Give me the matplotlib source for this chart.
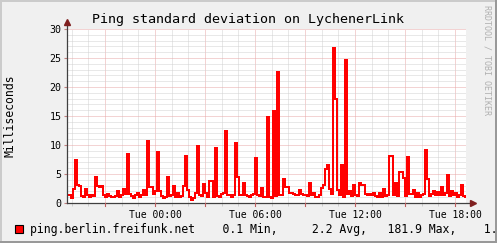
import numpy as np
import matplotlib
matplotlib.use('Agg')
import matplotlib.pyplot as plt
from matplotlib.patches import Rectangle

plt.rcParams['font.family'] = 'DejaVu Sans Mono'

# hours relative to Tue 00:00, one sample every 7.2 min
t_start = -5.28
t_step = 0.12
t_end = 18.66

# ping standard deviation (ms)
std_ms = [
    1.3, 1.4, 0.9, 2.4, 7.4, 3.1, 3.0, 1.2, 1.1, 2.4, 1.3, 1.0, 1.4, 1.2, 4.5, 2.9, 2.8, 2.9, 1.3, 1.1,
    1.6, 1.2, 1.0, 1.1, 1.2, 2.1, 1.1, 1.3, 2.4, 1.5, 8.4, 1.6, 1.2, 0.9, 1.4, 1.7, 1.1, 1.3, 2.2, 1.4,
    10.7, 2.7, 2.7, 1.6, 2.0, 8.8, 2.0, 1.2, 0.8, 1.1, 4.5, 1.2, 1.3, 2.9, 1.1, 1.7, 1.0, 1.2, 2.9, 8.1,
    2.2, 1.0, 0.5, 0.8, 1.7, 9.9, 1.4, 1.2, 3.3, 1.7, 1.0, 3.8, 3.8, 1.1, 9.5, 1.2, 1.0, 1.6, 1.7, 12.4,
    1.4, 1.3, 1.1, 1.4, 10.3, 4.4, 1.3, 1.4, 3.5, 1.3, 1.2, 1.1, 1.3, 1.6, 7.8, 1.3, 1.2, 2.6, 1.1, 1.0,
    14.8, 1.1, 0.9, 15.8, 1.2, 22.5, 1.3, 1.4, 4.1, 2.8, 2.7, 1.8, 1.8, 1.6, 1.4, 1.3, 2.2, 1.6, 1.3, 1.4,
    1.2, 3.5, 1.4, 1.8, 1.1, 1.0, 1.3, 2.6, 3.1, 5.9, 6.5, 2.4, 1.6, 26.7, 17.9, 2.2, 1.3, 6.5, 1.1, 24.7,
    1.6, 2.0, 1.2, 3.1, 1.3, 1.2, 3.4, 3.1, 3.1, 1.5, 1.4, 1.6, 1.3, 1.8, 1.2, 1.0, 1.7, 1.1, 2.4, 1.2,
    1.3, 8.1, 8.1, 1.4, 3.5, 1.2, 5.3, 5.3, 4.3, 1.2, 7.9, 1.6, 1.5, 2.2, 1.0, 1.8, 1.1, 1.3, 1.6, 9.1,
    4.1, 1.2, 1.6, 2.0, 1.3, 1.9, 1.4, 2.7, 1.3, 1.8, 4.8, 1.2, 2.0, 1.4, 1.7, 1.1, 1.3, 3.1, 1.2, 1.0,
]

xtick_pos = [0, 6, 12, 18]
xtick_lab = ['Tue 00:00', 'Tue 06:00', 'Tue 12:00', 'Tue 18:00']
ytick_pos = [0, 5, 10, 15, 20, 25, 30]

legend_txt = 'ping.berlin.freifunk.net    0.1 Min,     2.2 Avg,   181.9 Max,    1.'

t = t_start + t_step * np.arange(len(std_ms))
t = np.append(t, t[-1] + t_step)
v = np.append(std_ms, std_ms[-1])

W, H = 497, 243
fig = plt.figure(figsize=(W / 100, H / 100), dpi=100, facecolor='#f0f0f0')
ax = fig.add_axes([67 / W, 40 / H, 399 / W, 174 / H])
ax.set_facecolor('white')

ax.set_xlim(t_start, t_end)
ax.set_ylim(0, 30)

# grid: minor gray, major red-ish, dotted
dot = (0, (1, 1))
for h in np.arange(-5, 19, 1):
    c = '#e8a8a8' if h % 3 == 0 else '#d2d2d2'
    ax.axvline(h, color=c, lw=0.72, ls=dot, zorder=1)
for y in range(1, 31):
    c = '#e8a8a8' if y % 5 == 0 else '#d2d2d2'
    ax.axhline(y, color=c, lw=0.72, ls=dot, zorder=1)

ax.plot(t, v, drawstyle='steps-post', color='#ff0000', lw=1.1, antialiased=False, zorder=3)

for s in ax.spines.values():
    s.set_visible(False)

ax.set_xticks(xtick_pos)
ax.set_xticklabels(xtick_lab, fontsize=7)
ax.set_xticks(np.arange(-5, 19, 1), minor=True)
ax.tick_params(axis='x', which='major', length=0, pad=5)
ax.tick_params(axis='x', which='minor', length=2, color='#c8c8c8')
ax.set_yticks(ytick_pos)
ax.set_yticklabels([str(y) for y in ytick_pos], fontsize=7.2)
ax.tick_params(axis='y', which='major', length=2, color='#c08080', pad=2)

# axes with arrows
ax.plot([0, 1.018], [0, 0], transform=ax.transAxes, color='#404040', lw=0.9, clip_on=False, zorder=4)
ax.plot([0, 0], [0, 1.04], transform=ax.transAxes, color='#404040', lw=0.9, clip_on=False, zorder=4)
ax.plot([1.018], [0], transform=ax.transAxes, marker='>', color='#7f1f1f', ms=4, clip_on=False, zorder=5)
ax.plot([0], [1.04], transform=ax.transAxes, marker='^', color='#7f1f1f', ms=4, clip_on=False, zorder=5)
for h in np.arange(-3, 19, 3):
    ax.plot([h, h], [-0.5, 0], color='#c06060', lw=0.8, clip_on=False, zorder=4)

fig.text(248 / W, 1 - 19 / H, 'Ping standard deviation on LychenerLink',
         ha='center', va='center', fontsize=9.6)
fig.text(10 / W, 1 - 116 / H, 'Milliseconds', rotation=90,
         ha='center', va='center', fontsize=8.3)
fig.text(487 / W, 1 - 5 / H, 'RRDTOOL / TOBI OETIKER', rotation=270,
         ha='center', va='top', fontsize=6, color='#b0b0b0')

# legend
fig.add_artist(Rectangle((15 / W, 1 - 233 / H), 8 / W, 8 / H, transform=fig.transFigure,
                         facecolor='#ff0000', edgecolor='black', lw=0.8))
fig.text(30.5 / W, 1 - 229 / H, legend_txt, ha='left', va='center', fontsize=8.3)

# 3d border
fig.add_artist(Rectangle((0, 0), 2 / W, 1, transform=fig.transFigure, color='#cbcbcb', lw=0))
fig.add_artist(Rectangle((0, 1 - 2 / H), 1, 2 / H, transform=fig.transFigure, color='#cbcbcb', lw=0))
fig.add_artist(Rectangle((0, 0), 1, 2 / H, transform=fig.transFigure, color='#999999', lw=0))
fig.add_artist(Rectangle((1 - 2 / W, 0), 2 / W, 1, transform=fig.transFigure, color='#999999', lw=0))

fig.savefig('out.png', dpi=100, facecolor=fig.get_facecolor())
